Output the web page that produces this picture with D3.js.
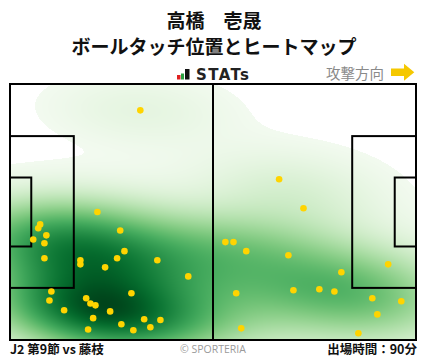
<!DOCTYPE html>
<html><head><meta charset="utf-8">
<script src="https://cdn.jsdelivr.net/npm/d3@7"></script>
<style>body{margin:0;background:#fff}svg{display:block}</style>
</head><body>
<script>
// ---- data ----
const playerName = "高橋　壱晟";
const chartTitle = "ボールタッチ位置とヒートマップ";
const brandLabel = "STATs";
const directionLabel = "攻撃方向";
const matchLabel = "J2 第9節 vs 藤枝";
const creditLabel = "© SPORTERIA";
const minutesLabel = "出場時間：90分";
const pitchLength = 105, pitchWidth = 68;
// touch locations in metres (x: along pitch, y: from top touchline)
const touchX = [33.7,22.6,7.8,7.3,9.4,6.0,8.9,28.5,29.6,27.7,8.9,18.2,18.2,24.6,38.1,46.1,10.7,31.4,10.2,19.7,20.8,22.1,14.0,25.9,21.5,34.7,38.9,36.3,28.8,20.2,31.9,
                69.6,75.9,55.7,57.8,61.1,72.0,97.8,85.7,58.5,73.3,80.0,83.9,93.7,101.2,95.0,59.8,90.1];
const touchY = [7.0,34.0,37.3,38.3,40.2,41.3,42.3,38.9,44.4,46.3,46.3,46.8,47.9,48.7,46.8,51.1,55.1,55.6,57.5,56.9,58.3,58.8,60.1,60.4,62.2,62.5,62.7,64.6,63.8,65.2,65.4,
                25.3,33.0,42.0,42.0,44.4,45.5,47.9,50.0,55.6,54.8,54.5,55.1,56.9,57.7,61.2,64.9,66.2];

const W = 428, H = 359;
const x = d3.scaleLinear().domain([0, pitchLength]).range([10, 416]);
const y = d3.scaleLinear().domain([0, pitchWidth]).range([84, 340]);

const svg = d3.select("body").append("svg").attr("width", W).attr("height", H)
  .style("font-family", "'Noto Sans CJK JP', 'Noto Sans', sans-serif");

// ---- header ----
svg.append("text").attr("x", 214).attr("y", 27.5).attr("text-anchor", "middle")
  .attr("font-size", 19).attr("font-weight", 700).attr("fill", "#111").text(playerName);
svg.append("text").attr("x", 214).attr("y", 53.5).attr("text-anchor", "middle")
  .attr("font-size", 19).attr("font-weight", 700).attr("fill", "#111").text(chartTitle);

// brand logo
const logo = svg.append("g");
logo.append("rect").attr("x", 177).attr("y", 75).attr("width", 3.5).attr("height", 4.5).attr("fill", "#e02020");
logo.append("rect").attr("x", 181).attr("y", 73.5).attr("width", 3).attr("height", 6).attr("fill", "#2aa040");
logo.append("rect").attr("x", 185).attr("y", 69).attr("width", 4.5).attr("height", 10.5).attr("fill", "#111");
logo.append("text").attr("x", 196).attr("y", 79.5).attr("font-family", "'DejaVu Sans', sans-serif")
  .attr("font-size", 15).attr("font-weight", 700).attr("fill", "#222").attr("textLength", 53).text(brandLabel);

svg.append("text").attr("x", 384).attr("y", 78.5).attr("text-anchor", "end")
  .attr("font-size", 14.5).attr("fill", "#8a8a8a").text(directionLabel);
svg.append("path").attr("d", "M391,68.5H404V63.8L414.3,72.3L404,80.8V76H391Z").attr("fill", "#f5c800");

// ---- heatmap (Gaussian KDE from touch data) ----
const n = touchX.length;
const mx = d3.mean(touchX), my = d3.mean(touchY);
let sxx = 0, syy = 0, sxy = 0;
for (let i = 0; i < n; i++) {
  const dx = touchX[i] - mx, dy = touchY[i] - my;
  sxx += dx * dx; syy += dy * dy; sxy += dx * dy;
}
sxx /= (n - 1); syy /= (n - 1); sxy /= (n - 1);
const f = Math.pow(n, -1 / 6) * 1.1;
const a = sxx * f * f, b = sxy * f * f, c = syy * f * f;
const det = a * c - b * b;
const ia = c / det, ib = -b / det, ic = a / det;

const x0 = x.range()[0], y0 = y.range()[0];
const gw = Math.round(x.range()[1] - x0), gh = Math.round(y.range()[1] - y0);
const canvas = document.createElement("canvas");
canvas.width = gw; canvas.height = gh;
const ctx = canvas.getContext("2d");
const img = ctx.createImageData(gw, gh);
const dens = new Float64Array(gw * gh);
let dmax = 0;
for (let j = 0; j < gh; j++) {
  const py = y.invert(y0 + j + 0.5);
  for (let i = 0; i < gw; i++) {
    const px = x.invert(x0 + i + 0.5);
    let s = 0;
    for (let k = 0; k < n; k++) {
      const dx = px - touchX[k], dy = py - touchY[k];
      s += Math.exp(-0.5 * (ia * dx * dx + 2 * ib * dx * dy + ic * dy * dy));
    }
    dens[j * gw + i] = s;
    if (s > dmax) dmax = s;
  }
}
const thr = 0.02;
const color = t => d3.rgb(d3.interpolateGreens(t));
for (let p = 0; p < gw * gh; p++) {
  const t = dens[p] / dmax;
  if (t < thr) { img.data[p * 4 + 3] = 0; continue; }
  const u = Math.pow((t - thr) / (1 - thr), 0.86);
  const cc = color(0.03 + 0.97 * u);
  img.data[p * 4] = cc.r; img.data[p * 4 + 1] = cc.g; img.data[p * 4 + 2] = cc.b; img.data[p * 4 + 3] = 255;
}
ctx.putImageData(img, 0, 0);
svg.append("image").attr("x", x0).attr("y", y0).attr("width", gw).attr("height", gh)
  .attr("preserveAspectRatio", "none").attr("href", canvas.toDataURL());

// ---- pitch lines ----
const lines = svg.append("g").attr("fill", "none").attr("stroke", "#000").attr("stroke-width", 2);
lines.append("rect").attr("x", x(0)).attr("y", y(0)).attr("width", x(pitchLength) - x(0)).attr("height", y(pitchWidth) - y(0));
lines.append("line").attr("x1", x(pitchLength / 2)).attr("x2", x(pitchLength / 2)).attr("y1", y(0)).attr("y2", y(pitchWidth));
const pbW = 40.32, gaW = 18.32;
const boxes = [
  [0, 16.5, pbW], [0, 5.5, gaW],
  [pitchLength - 16.5, pitchLength, pbW], [pitchLength - 5.5, pitchLength, gaW]
];
boxes.forEach(([a0, a1, w]) => {
  lines.append("rect").attr("x", x(a0)).attr("y", y(pitchWidth / 2 - w / 2))
    .attr("width", x(a1) - x(a0)).attr("height", y(pitchWidth / 2 + w / 2) - y(pitchWidth / 2 - w / 2));
});

// ---- touches ----
svg.append("g").selectAll("circle").data(d3.range(n)).join("circle")
  .attr("cx", i => x(touchX[i])).attr("cy", i => y(touchY[i])).attr("r", 3.3)
  .attr("fill", "#ffd400");

// ---- footer ----
svg.append("text").attr("x", 10).attr("y", 354).attr("font-size", 12.5).attr("font-weight", 700).attr("fill", "#111").text(matchLabel);
svg.append("text").attr("x", 213).attr("y", 353).attr("text-anchor", "middle").attr("font-family", "'Open Sans', 'Noto Sans', sans-serif")
  .attr("font-size", 10.5).attr("fill", "#9a9a9a").text(creditLabel);
svg.append("text").attr("x", 417).attr("y", 354).attr("text-anchor", "end").attr("font-size", 12.5).attr("font-weight", 700).attr("fill", "#111").text(minutesLabel);
</script>
</body></html>
